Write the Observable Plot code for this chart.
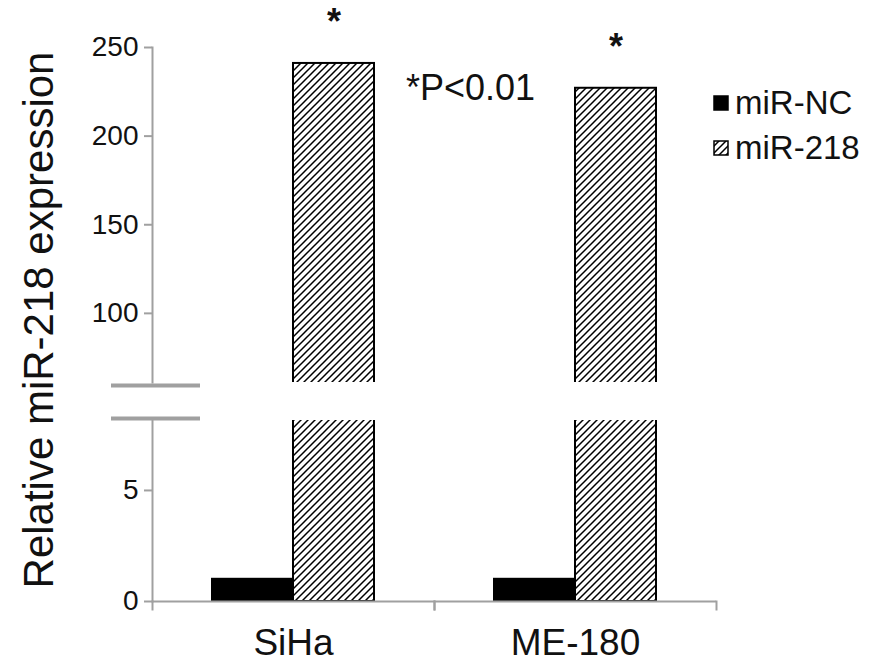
<!DOCTYPE html>
<html><head><meta charset="utf-8">
<script src="https://cdn.jsdelivr.net/npm/d3@7"></script>
<script src="https://cdn.jsdelivr.net/npm/@observablehq/plot@0.6"></script>
<style>
body{margin:0;background:#fff;font-family:"Liberation Sans",Arial,sans-serif;}
#chart{position:relative;width:874px;height:669px;overflow:hidden;}
#chart > svg{position:absolute;left:0;top:0;}
#ylabel{position:absolute;left:39px;top:320px;transform:translate(-50%,-50%) rotate(-90deg);white-space:nowrap;font-size:42px;color:#111;}
.leg{position:absolute;left:713px;display:flex;align-items:center;font-size:33px;color:#111;white-space:nowrap;}
.leg svg{margin-right:6px;}
</style></head><body>
<svg width="0" height="0" style="position:absolute">
  <defs>
    <pattern id="hatch" patternUnits="userSpaceOnUse" width="7" height="7">
      <rect width="7" height="7" fill="#fff"/>
      <path d="M-1,1 l2,-2 M0,7 l7,-7 M6,8 l2,-2" stroke="#000" stroke-width="1.5"/>
    </pattern>
  </defs>
</svg>
<div id="chart">
  <div id="ylabel"></div>
</div>
<script>
// ---- data ----
const cellLines = ["SiHa", "ME-180"];
const groups = ["miR-NC", "miR-218"];
const miRNC = [1, 1];
const miR218 = [241, 227];
const significance = ["*", "*"];
const upperTicks = [100, 150, 200, 250];
const lowerTicks = [0, 5];
const upperDomain = [61, 250];   // upper panel of the broken axis
const lowerDomain = [0, 8.15];   // lower panel of the broken axis
const pValueNote = "*P<0.01";
const pValueNoteY = 227;
const yLabel = "Relative miR-218 expression";
const groupFills = ["#000", "url(#hatch)"];

// ---- table ----
const rows = cellLines.flatMap((c, i) => [
  {line: c, group: groups[0], value: miRNC[i]},
  {line: c, group: groups[1], value: miR218[i]}
]);
const stars = cellLines.map((c, i) => ({line: c, group: groups[1], value: miR218[i], sig: significance[i]}));

// ---- layout ----
const W = 874, ML = 152, MR = 158;
const upperH = 400, upperTop = 47, upperBottom = 382;
const lowerH = 669, lowerTop = 420, lowerBottom = 601;
const axisGray = "#a0a0a0";
const font = "Liberation Sans, Arial, sans-serif";

const common = {
  width: W, marginLeft: ML, marginRight: MR,
  fx: {domain: cellLines, padding: 0, axis: null},
  x: {domain: groups, paddingInner: 0, paddingOuter: 0.73, axis: null},
  color: {type: "ordinal", domain: groups, range: groupFills},
  style: {background: "transparent", fontFamily: font, overflow: "visible"}
};

const breakMark = (yv, dy) => Plot.ruleY([yv], {
  dy, insetLeft: -41, insetRight: (W - ML - MR) / cellLines.length - 48,
  stroke: axisGray, strokeWidth: 4, facetAnchor: "left"
});

const upper = Plot.plot({
  ...common,
  height: upperH, marginTop: upperTop, marginBottom: upperH - upperBottom,
  y: {domain: upperDomain, axis: null},
  marks: [
    Plot.barY(rows, {fx: "line", x: "group", y: "value", fill: "group", stroke: "#000", strokeWidth: 2, clip: true}),
    Plot.frame({anchor: "left", facetAnchor: "left", stroke: axisGray, strokeWidth: 2}),
    Plot.axisY({ticks: upperTicks, tickSize: 8, tickPadding: 6, fontSize: 28, stroke: axisGray, strokeWidth: 2, fill: "#111", label: null}),
    breakMark(upperDomain[0], 3),
    Plot.text(stars, {fx: "line", x: "group", y: "value", text: "sig", dy: -41, fontSize: 36, fontWeight: "bold", fill: "#111"}),
    Plot.text([pValueNote], {fx: () => cellLines[1], x: () => groups[0], y: () => pValueNoteY, text: d => d, textAnchor: "end", fontSize: 36, fill: "#111"})
  ]
});

const lower = Plot.plot({
  ...common,
  height: lowerH, marginTop: lowerTop, marginBottom: lowerH - lowerBottom,
  y: {domain: lowerDomain, axis: null},
  marks: [
    Plot.barY(rows, {fx: "line", x: "group", y: "value", fill: "group", stroke: "#000", strokeWidth: 2, clip: true}),
    Plot.frame({anchor: "left", facetAnchor: "left", stroke: axisGray, strokeWidth: 2}),
    Plot.ruleY([0], {stroke: axisGray, strokeWidth: 2}),
    Plot.frame({anchor: "left", insetTop: lowerBottom - lowerTop, insetBottom: -8, stroke: axisGray, strokeWidth: 2}),
    Plot.frame({anchor: "right", insetTop: lowerBottom - lowerTop, insetBottom: -8, stroke: axisGray, strokeWidth: 2}),
    Plot.axisY({ticks: lowerTicks, tickSize: 8, tickPadding: 6, fontSize: 28, stroke: axisGray, strokeWidth: 2, fill: "#111", label: null}),
    breakMark(lowerDomain[1], -2),
    Plot.axisFx({anchor: "bottom", tickSize: 0, tickPadding: 27, fontSize: 37, fill: "#111", label: null})
  ]
});

const chart = document.getElementById("chart");
chart.appendChild(upper);
chart.appendChild(lower);
document.getElementById("ylabel").textContent = yLabel;

// legend
groups.forEach((g, i) => {
  const d = document.createElement("div");
  d.className = "leg";
  d.style.top = (i === 0 ? 84 : 129) + "px";
  d.innerHTML = `<svg width="16" height="16"><rect x="1" y="1" width="14" height="14" fill="${groupFills[i]}" stroke="#000" stroke-width="1.5"/></svg><span>${g}</span>`;
  chart.appendChild(d);
});
</script>
</body></html>
